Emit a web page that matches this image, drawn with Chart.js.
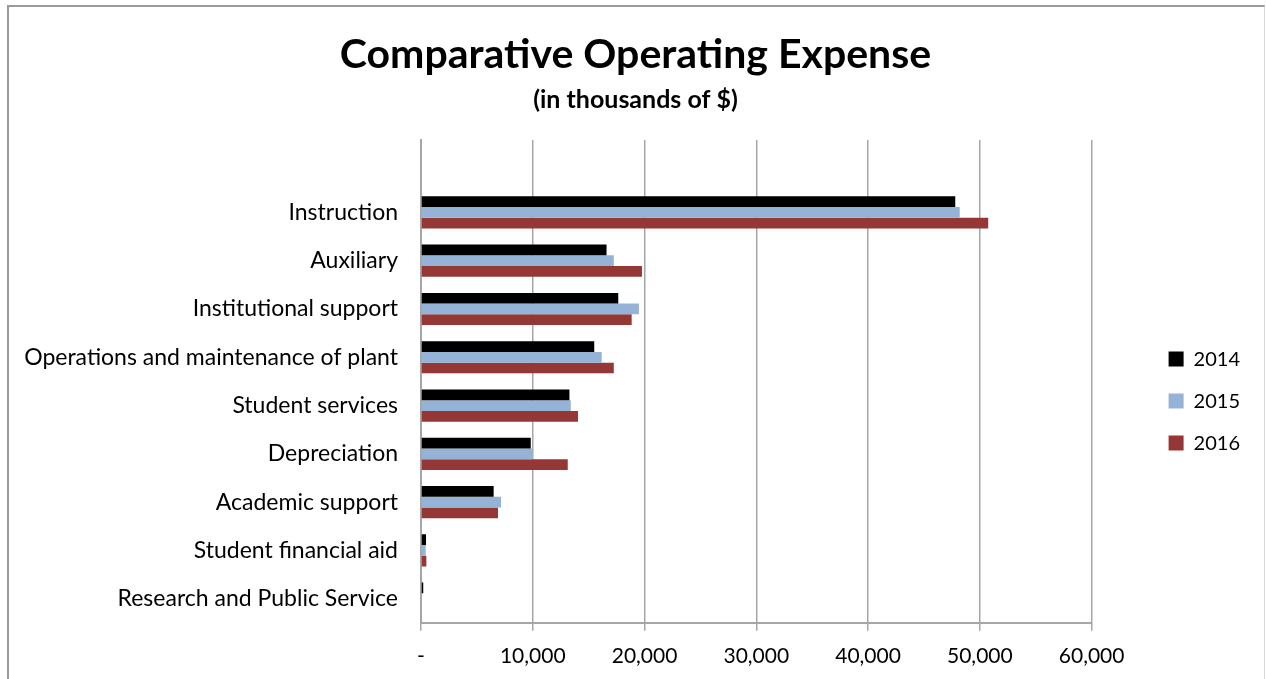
<!DOCTYPE html>
<html>
<head>
<meta charset="utf-8">
<title>Comparative Operating Expense</title>
<script src="https://cdn.jsdelivr.net/npm/chart.js@4.4.0/dist/chart.umd.min.js"></script>
<style>
  html, body { margin: 0; padding: 0; background: #fff; overflow: hidden; }
  .frame {
    position: absolute;
    left: 7px;
    top: 5px;
    width: 1255px;
    height: 690px;
    border-left: 2px solid #9a9a9a;
    border-top: 2px solid #9a9a9a;
    border-right: 1px solid #d9d9d9;
  }
  canvas { display: block; }
</style>
</head>
<body>
<div class="frame">
  <canvas id="expense" width="1255" height="675"></canvas>
</div>
<script>
// categories, top to bottom (first one is the empty band Excel leaves on top)
const categories = [
  "",
  "Instruction",
  "Auxiliary",
  "Institutional support",
  "Operations and maintenance of plant",
  "Student services",
  "Depreciation",
  "Academic support",
  "Student financial aid",
  "Research and Public Service",
];

const years = ["2014", "2015", "2016"];

// values in thousands of $
const values2014 = [null, 47800, 16600, 17650, 15500, 13280, 9820, 6500, 450, 200];
const values2015 = [null, 48200, 17250, 19500, 16170, 13400, 10000, 7160, 420, 0];
const values2016 = [null, 50750, 19770, 18850, 17250, 14050, 13130, 6890, 480, 0];

const xTicks = [0, 10000, 20000, 30000, 40000, 50000, 60000];

const colors = ["#000000", "#95b3d7", "#953735"];

Chart.defaults.font.family = "Lato, 'Liberation Sans', sans-serif";
Chart.defaults.color = "#1a1a1a";

const ctx = document.getElementById("expense");

new Chart(ctx, {
  type: "bar",
  data: {
    labels: categories,
    datasets: [values2014, values2015, values2016].map((vals, i) => ({
      label: years[i],
      data: vals,
      backgroundColor: colors[i],
      borderWidth: 0,
      xAxisID: "x",
      yAxisID: "y",
      categoryPercentage: 0.667,
      barPercentage: 1.0,
    })),
  },
  options: {
    indexAxis: "y",
    responsive: false,
    animation: false,
    layout: {
      padding: { left: 12, right: 14, top: 0, bottom: 0 },
    },
    plugins: {
      title: {
        display: true,
        text: "Comparative Operating Expense",
        color: "#000",
        font: { size: 41, weight: "bold" },
        padding: { top: 23.4, bottom: 2 },
      },
      subtitle: {
        display: true,
        text: "(in thousands of $)",
        color: "#000",
        font: { size: 25, weight: "bold" },
        padding: { top: 3, bottom: 25.4 },
      },
      legend: {
        position: "right",
        fullSize: false,
        // empty title only pushes the items down a bit
        title: { display: true, text: "", font: { size: 12 }, padding: 12.5 },
        labels: {
          boxWidth: 15,
          boxHeight: 15,
          padding: 22,
          color: "#000",
          font: { size: 20 },
        },
      },
      tooltip: { enabled: false },
    },
    scales: {
      x: {
        type: "linear",
        position: "bottom",
        min: 0,
        max: 60000,
        afterBuildTicks: (scale) => {
          scale.ticks = xTicks.map((v) => ({ value: v }));
        },
        grid: {
          color: "#a6a6a6",
          lineWidth: 1.5,
          tickLength: 8,
        },
        border: { color: "#a6a6a6", width: 2 },
        ticks: {
          padding: 13,
          color: "#000",
          font: { size: 21 },
          maxRotation: 0,
          callback: (v) => (v === 0 ? "-" : v.toLocaleString("en-US")),
        },
      },
      y: {
        type: "category",
        position: "left",
        grid: { display: false },
        border: { display: true, color: "#a6a6a6", width: 2 },
        ticks: {
          autoSkip: false,
          padding: 15,
          color: "#000",
          font: { size: 23 },
        },
        afterFit: (scale) => {
          scale.width = 400;
        },
      },
      // spacer between plot and legend
      gap: {
        type: "linear",
        axis: "y",
        position: "right",
        grid: { display: false },
        border: { display: false },
        ticks: { display: false },
        afterFit: (scale) => {
          scale.width = 55;
        },
      },
    },
  },
});
</script>
</body>
</html>
